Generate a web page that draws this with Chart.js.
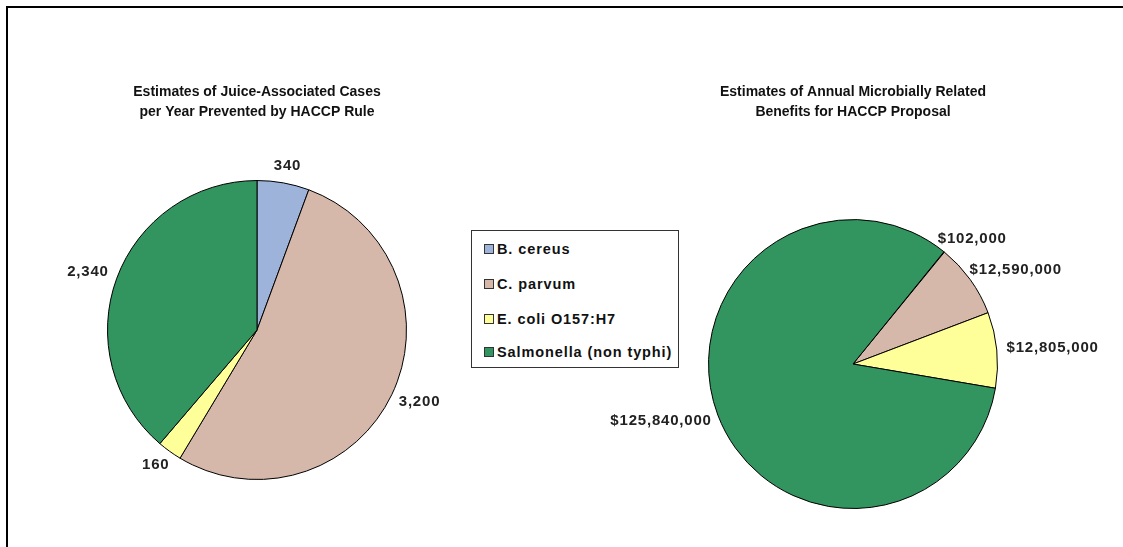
<!DOCTYPE html>
<html>
<head>
<meta charset="utf-8">
<script src="https://cdn.jsdelivr.net/npm/chart.js@4.4.1/dist/chart.umd.min.js"></script>
<style>
  html, body { margin: 0; padding: 0; background: #fff; }
  body { width: 1123px; height: 547px; position: relative; overflow: hidden; font-family: "Liberation Sans", Arial, sans-serif; }
  .frame { position: absolute; left: 6px; top: 6px; right: -4px; bottom: -4px; border-left: 2px solid #000; border-top: 2px solid #000; }
  #leftWrap { position: absolute; left: 0; top: 0; width: 514px; height: 547px; }
  #rightWrap { position: absolute; left: 583px; top: 0; width: 540px; height: 547px; }
  .legend { position: absolute; left: 471px; top: 230px; width: 208px; height: 138px; border: 1px solid #333; background: #fff; z-index: 5; box-sizing: border-box; }
  .legend .item { position: absolute; left: 12px; font-weight: bold; font-size: 14.5px; letter-spacing: 0.9px; color: #111; line-height: 16px; white-space: nowrap; }
  .legend .sw { display: inline-block; width: 8px; height: 8px; border: 1px solid #333; margin-right: 3px; vertical-align: 0px; }
</style>
</head>
<body>
<div class="frame"></div>
<div id="leftWrap"><canvas id="left"></canvas></div>
<div id="rightWrap"><canvas id="right"></canvas></div>
<div class="legend" id="legend"></div>
<script>
const CATEGORIES = ["B. cereus", "C. parvum", "E. coli O157:H7", "Salmonella (non typhi)"];
const CASES_PREVENTED = [340, 3200, 160, 2340];
const BENEFITS_USD = [102000, 12590000, 12805000, 125840000];
const COLORS = ["#9db3da", "#d6b8aa", "#ffff99", "#32955f"];

const LEFT_TITLE = ["Estimates of Juice-Associated Cases", "per Year Prevented by HACCP Rule"];
const RIGHT_TITLE = ["Estimates of Annual Microbially Related", "Benefits for HACCP Proposal"];

// labels sit just outside the rim, pushed outward along the slice's mid angle
const outsideLabels = {
  id: "outsideLabels",
  afterDatasetsDraw(chart, args, opts) {
    const ctx = chart.ctx;
    const meta = chart.getDatasetMeta(0);
    const values = chart.data.datasets[0].data;
    ctx.save();
    ctx.font = "bold 15px 'Liberation Sans', Arial, sans-serif";
    ctx.letterSpacing = "0.8px";
    ctx.fillStyle = "#222";
    ctx.textAlign = "center";
    ctx.textBaseline = "middle";
    meta.data.forEach((arc, i) => {
      const mid = (arc.startAngle + arc.endAngle) / 2;
      const dx = Math.cos(mid), dy = Math.sin(mid);
      const r = arc.outerRadius + (opts.offset || 8);
      const text = opts.format(values[i]);
      const w = ctx.measureText(text).width, h = 14;
      const x = arc.x + r * dx + dx * w / 2;
      const y = arc.y + r * dy + dy * h / 2;
      ctx.fillText(text, x, y);
    });
    ctx.restore();
  },
};

function pieOptions(title, rotation, titleBottom, padBottom, fmt) {
  return {
    responsive: true,
    maintainAspectRatio: false,
    animation: false,
    rotation: rotation,
    layout: { padding: { top: 0, bottom: padBottom, left: 0, right: 0 } },
    plugins: {
      legend: { display: false },
      tooltip: { enabled: false },
      title: {
        display: true,
        text: title,
        color: "#111",
        font: { family: "'Liberation Sans', Arial, sans-serif", size: 14, weight: "bold", lineHeight: 1.43 },
        padding: { top: 82, bottom: titleBottom },
      },
      outsideLabels: { format: fmt, offset: 10 },
    },
  };
}

const fmtNum = (v) => v.toLocaleString("en-US");
const fmtUsd = (v) => "$" + v.toLocaleString("en-US");

new Chart(document.getElementById("left"), {
  type: "pie",
  data: {
    labels: CATEGORIES,
    datasets: [{ data: CASES_PREVENTED, backgroundColor: COLORS, borderColor: "#000", borderWidth: 1 }],
  },
  options: pieOptions(LEFT_TITLE, 0, 58, 67, fmtNum),
  plugins: [outsideLabels],
});

new Chart(document.getElementById("right"), {
  type: "pie",
  data: {
    labels: CATEGORIES,
    datasets: [{ data: BENEFITS_USD, backgroundColor: COLORS, borderColor: "#000", borderWidth: 1 }],
  },
  options: pieOptions(RIGHT_TITLE, 39, 97, 38, fmtUsd),
  plugins: [outsideLabels],
});

// shared legend box between the two pies
const legend = document.getElementById("legend");
const itemTops = [10, 45, 80, 113];
CATEGORIES.forEach((name, i) => {
  const el = document.createElement("div");
  el.className = "item";
  el.style.top = itemTops[i] + "px";
  el.innerHTML = '<span class="sw" style="background:' + COLORS[i] + '"></span>' + name;
  legend.appendChild(el);
});
</script>
</body>
</html>
